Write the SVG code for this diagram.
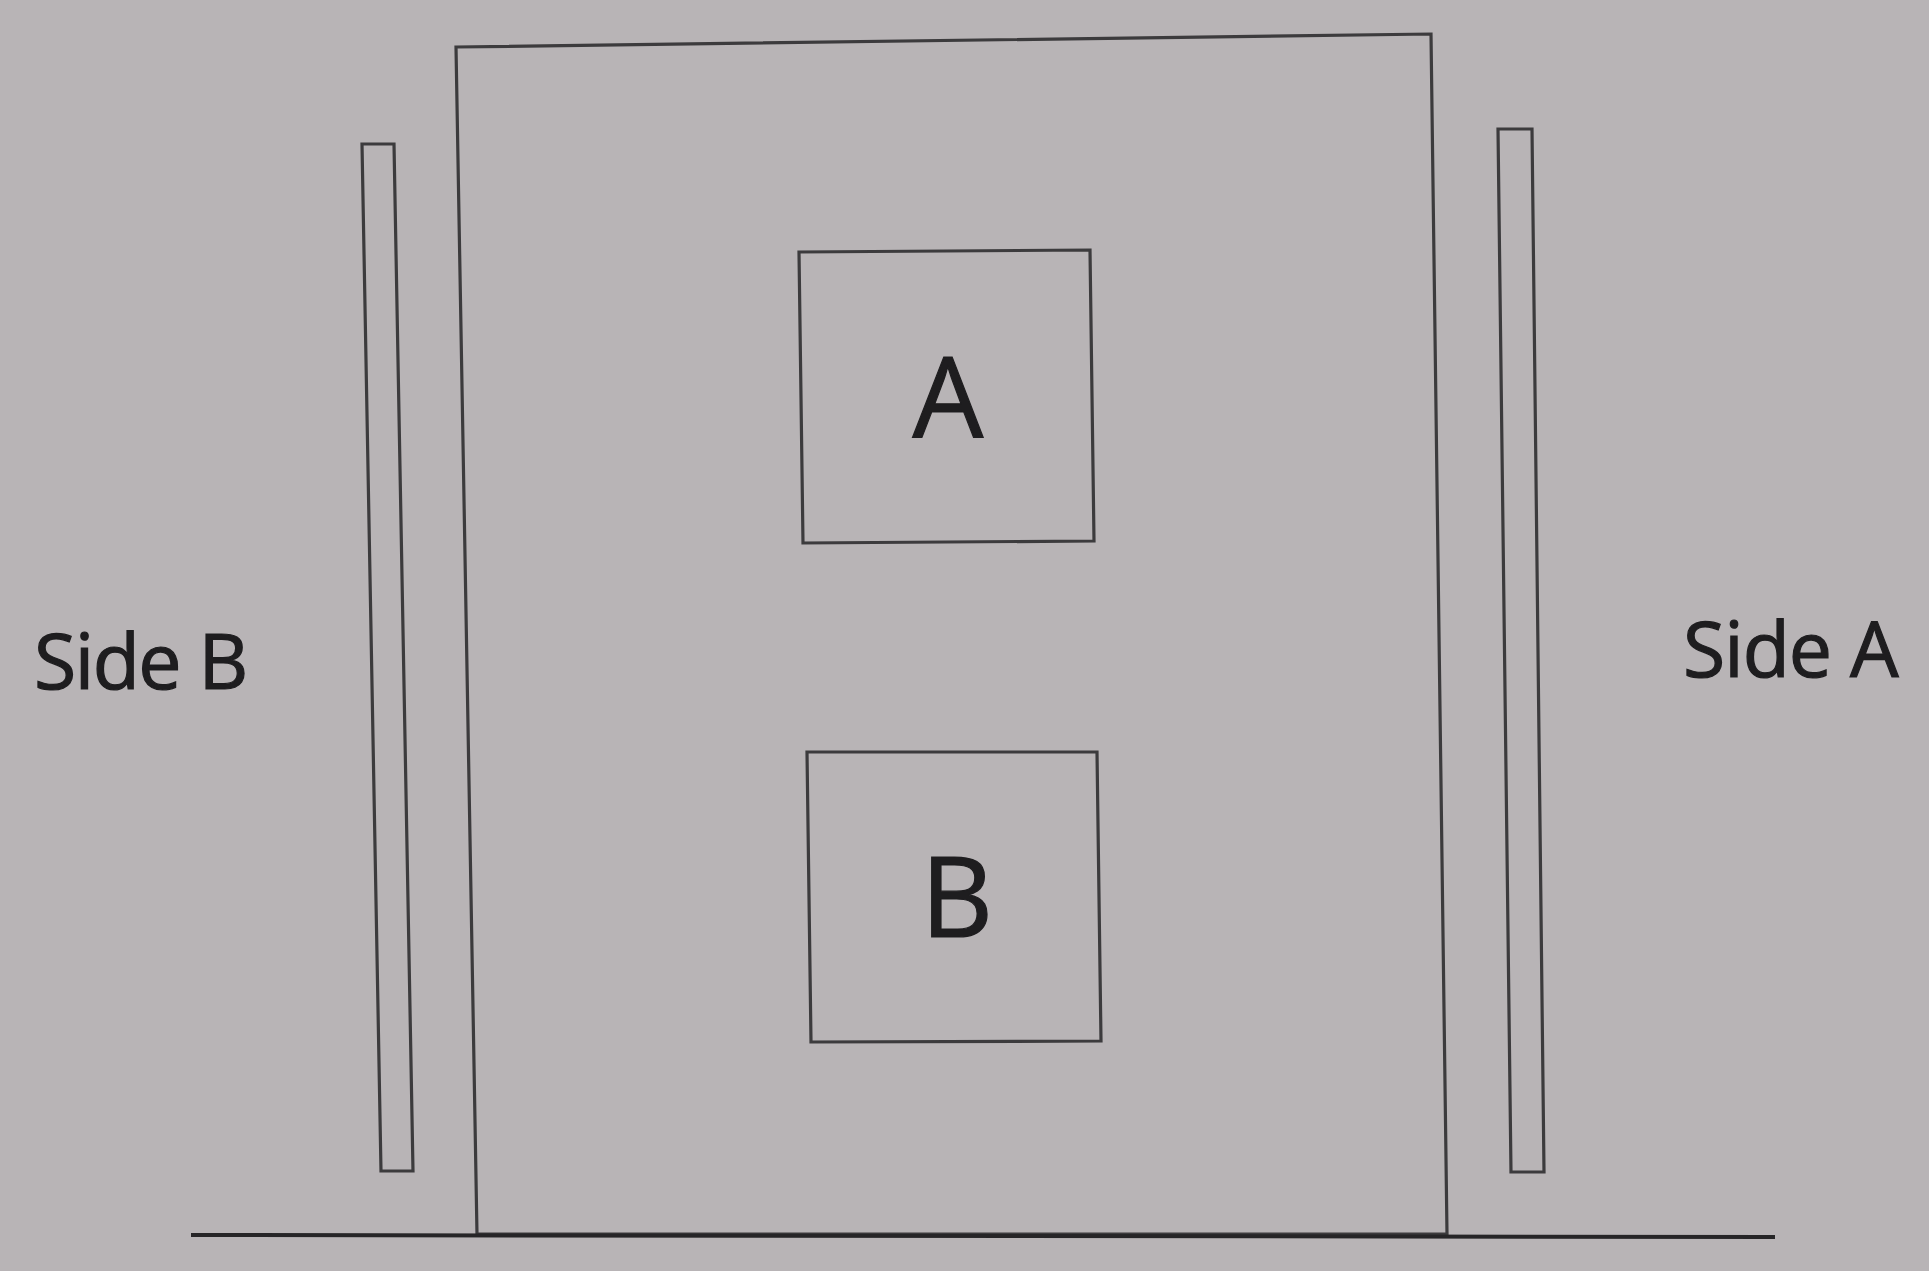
<svg xmlns="http://www.w3.org/2000/svg" width="1929" height="1271" viewBox="0 0 1929 1271">
<style>
.ln{fill:none;stroke:#3c3b3d;stroke-width:3.2;stroke-linejoin:miter}
.gr{fill:none;stroke:#262527;stroke-width:4}
.t{font-family:"Open Sans","Noto Sans",sans-serif;fill:#1e1d1f;stroke:#1e1d1f;stroke-width:1.2}
</style>
<rect width="1929" height="1271" fill="#b8b4b6"/>
<g id="frame"><polygon class="ln" points="456,47 1431,34 1447,1234 477,1234"/></g>
<g id="barB"><polygon class="ln" points="362,144 394,144 413,1171 381,1171"/></g>
<g id="barA"><polygon class="ln" points="1498,129 1532,129 1544,1172 1511,1172"/></g>
<g id="boxA"><polygon class="ln" points="799,252 1090,250 1094,541 803,543"/>
<text class="t" x="948" y="437" font-size="112" text-anchor="middle">A</text></g>
<g id="boxB"><polygon class="ln" points="807,752 1097,752 1101,1041 811,1042"/>
<text class="t" x="957" y="937" font-size="112" text-anchor="middle">B</text></g>
<g id="ground"><line class="gr" x1="191" y1="1235" x2="1775" y2="1237"/></g>
<g id="labels">
<text class="t" x="34" y="689" font-size="77" letter-spacing="-1.5">Side B</text>
<text class="t" x="1683" y="677" font-size="77" letter-spacing="-1">Side A</text>
</g>
</svg>
